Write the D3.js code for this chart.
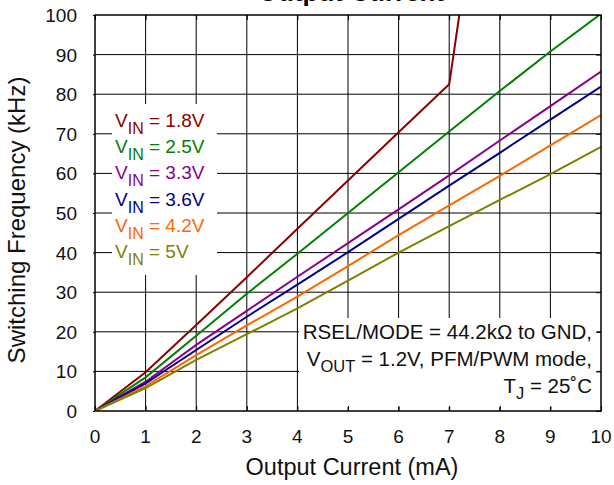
<!DOCTYPE html>
<html>
<head>
<meta charset="utf-8">
<script src="https://cdn.jsdelivr.net/npm/d3@7"></script>
<style>
  body { margin: 0; background: #fff; }
  text { font-family: "Liberation Sans", Arial, sans-serif; }
</style>
</head>
<body>
<script>
'use strict';

const width = 614;
const height = 485;
const margin = {top: 15, right: 13, bottom: 74, left: 95};

// output current (mA)
const current = [0, 1, 2, 3, 4, 5, 6, 7, 8, 9, 10];

// switching frequency (kHz) per input voltage
const vin18 = [0, 9.8, 21.7, 33.8, 46, 58.2, 70.4, 82.5];
const vin18Tail = [[7, 82.5], [7.2, 100]];
const vin25 = [0, 8.5, 19, 29.6, 39.7, 50, 60.3, 70.6, 80.8, 90.8, 100.3];
const vin33 = [0, 7.4, 16.7, 25.3, 33.9, 42.4, 50.9, 59.5, 68.3, 77, 85.7];
const vin36 = [0, 7, 15.4, 23.8, 31.9, 40.1, 48.5, 56.9, 65.2, 73.6, 81.9];
const vin42 = [0, 6.3, 14.1, 21.6, 28.9, 36.6, 44.4, 51.9, 59.4, 67.1, 74.7];
const vin50 = [0, 5.8, 12.9, 19.4, 25.9, 32.9, 40, 46.7, 53.3, 59.8, 66.7];

const seriesLabels = ['1.8V', '2.5V', '3.3V', '3.6V', '4.2V', '5V'];
const seriesColors = ['#8b0000', '#008000', '#8b008b', '#00008b', '#ff6600', '#808000'];

const xTicks = [0, 1, 2, 3, 4, 5, 6, 7, 8, 9, 10];
const yTicks = [0, 10, 20, 30, 40, 50, 60, 70, 80, 90, 100];

const series = [
  current.slice(0, vin18.length).map((c, i) => [c, vin18[i]]).concat(vin18Tail.slice(1)),
  current.map((c, i) => [c, vin25[i]]),
  current.map((c, i) => [c, vin33[i]]),
  current.map((c, i) => [c, vin36[i]]),
  current.map((c, i) => [c, vin42[i]]),
  current.map((c, i) => [c, vin50[i]])
];

const svg = d3.select('body')
  .append('svg')
  .attr('width', width)
  .attr('height', height);

const x = d3.scaleLinear().domain([0, 10]).range([margin.left, width - margin.right]);
const y = d3.scaleLinear().domain([0, 100]).range([height - margin.bottom, margin.top]);

// grid
svg.append('g')
  .selectAll('line.vgrid')
  .data(xTicks.slice(1, -1))
  .enter()
  .append('line')
  .attr('x1', (d) => x(d)).attr('x2', (d) => x(d))
  .attr('y1', y(0)).attr('y2', y(100))
  .attr('stroke', '#000').attr('stroke-width', 1);

svg.append('g')
  .selectAll('line.hgrid')
  .data(yTicks.slice(1, -1))
  .enter()
  .append('line')
  .attr('x1', x(0)).attr('x2', x(10))
  .attr('y1', (d) => y(d)).attr('y2', (d) => y(d))
  .attr('stroke', '#000').attr('stroke-width', 1);

// legend + note boxes cover the grid
svg.append('rect')
  .attr('x', 112).attr('y', 104).attr('width', 105).attr('height', 171)
  .attr('fill', '#fff');
svg.append('rect')
  .attr('x', 299).attr('y', 318).attr('width', x(10) - 299 - 4).attr('height', 89)
  .attr('fill', '#fff');

// inward ticks, tiny outward ones on the left
const tickLen = 5;
const xAxisB = d3.axisBottom(x).tickValues(xTicks).tickSize(-tickLen).tickFormat('');
const xAxisT = d3.axisTop(x).tickValues(xTicks).tickSize(-tickLen).tickFormat('');
const yAxisL = d3.axisLeft(y).tickValues(yTicks).tickSize(2).tickFormat('');
const yAxisR = d3.axisRight(y).tickValues(yTicks).tickSize(-tickLen).tickFormat('');

svg.append('g').attr('transform', `translate(0, ${y(0)})`).call(xAxisB);
svg.append('g').attr('transform', `translate(0, ${y(100)})`).call(xAxisT);
svg.append('g').attr('transform', `translate(${x(0)}, 0)`).call(yAxisL);
svg.append('g').attr('transform', `translate(${x(10)}, 0)`).call(yAxisR);
svg.selectAll('.domain').remove();
svg.selectAll('.tick line').attr('stroke', '#000');

// tick labels
svg.append('g')
  .selectAll('text')
  .data(xTicks)
  .enter()
  .append('text')
  .attr('x', (d) => x(d))
  .attr('y', y(0) + 32)
  .attr('text-anchor', 'middle')
  .attr('font-size', '19px')
  .attr('fill', '#111')
  .text((d) => d);

svg.append('g')
  .selectAll('text')
  .data(yTicks)
  .enter()
  .append('text')
  .attr('x', 77)
  .attr('y', (d) => y(d) + 7)
  .attr('text-anchor', 'end')
  .attr('font-size', '19px')
  .attr('fill', '#111')
  .text((d) => d);

// lines
svg.append('clipPath').attr('id', 'plot')
  .append('rect')
  .attr('x', x(0)).attr('y', y(100))
  .attr('width', x(10) - x(0)).attr('height', y(0) - y(100));

const line = d3.line().x((d) => x(d[0])).y((d) => y(d[1]));

svg.append('g')
  .attr('clip-path', 'url(#plot)')
  .selectAll('path')
  .data(series)
  .enter()
  .append('path')
  .attr('d', line)
  .attr('fill', 'none')
  .attr('stroke', (d, i) => seriesColors[i])
  .attr('stroke-width', 2);

// frame
svg.append('rect')
  .attr('x', x(0)).attr('y', y(100))
  .attr('width', x(10) - x(0)).attr('height', y(0) - y(100))
  .attr('fill', 'none')
  .attr('stroke', '#000')
  .attr('stroke-width', 1.5);

// legend
const legend = svg.append('g')
  .selectAll('text')
  .data(seriesLabels)
  .enter()
  .append('text')
  .attr('x', 115)
  .attr('y', (d, i) => 127 + i * 26.2)
  .attr('font-size', '19px')
  .attr('fill', (d, i) => seriesColors[i]);
legend.append('tspan').text('V');
legend.append('tspan').attr('dy', 7).attr('font-size', '16px').text('IN');
legend.append('tspan').attr('dy', -7).text((d) => ` = ${d}`);

// note
const note = svg.append('g').attr('font-size', '20.5px').attr('fill', '#111').attr('text-anchor', 'end');
note.append('text').attr('x', 592).attr('y', 339).text('RSEL/MODE = 44.2k\u03A9 to GND,');
const n2 = note.append('text').attr('x', 592).attr('y', 366);
n2.append('tspan').text('V');
n2.append('tspan').attr('dy', 6).attr('font-size', '16.5px').text('OUT');
n2.append('tspan').attr('dy', -6).text(' = 1.2V, PFM/PWM mode,');
const n3 = note.append('text').attr('x', 592).attr('y', 393);
n3.append('tspan').text('T');
n3.append('tspan').attr('dy', 6).attr('font-size', '16.5px').text('J');
n3.append('tspan').attr('dy', -6).text(' = 25\u02DAC');

// titles
svg.append('text')
  .attr('x', 351).attr('y', 1)
  .attr('text-anchor', 'middle')
  .attr('font-size', '26px').attr('font-weight', 'bold')
  .text('Output Current');

svg.append('text')
  .attr('x', 352).attr('y', 475)
  .attr('text-anchor', 'middle')
  .attr('font-size', '23.5px')
  .attr('fill', '#111')
  .text('Output Current (mA)');

svg.append('text')
  .attr('transform', `translate(25, 220) rotate(-90)`)
  .attr('text-anchor', 'middle')
  .attr('font-size', '24px')
  .attr('fill', '#111')
  .text('Switching Frequency (kHz)');
</script>
</body>
</html>
